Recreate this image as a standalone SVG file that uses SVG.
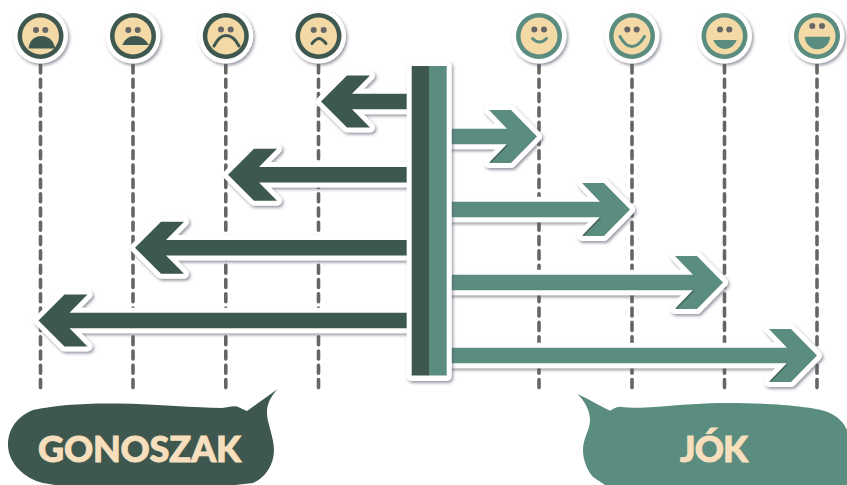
<svg xmlns="http://www.w3.org/2000/svg" width="847" height="485" viewBox="0 0 847 485">
<style>
.dash{stroke:#666;stroke-width:3.6;stroke-linecap:round;stroke-dasharray:8 6.3;fill:none}
.plate{fill:#fff;filter:url(#sh)}
.d .ring{fill:#3e584f}.t .ring{fill:#5a8d7f}
.skin{fill:#f3d9a6}
.eye{fill:#666}
.d .m{fill:#3e584f}.t .m{fill:#5a8d7f}
.d .a{fill:none;stroke:#3e584f;stroke-width:3;stroke-linecap:round}
.t .a{fill:none;stroke:#5a8d7f;stroke-width:3;stroke-linecap:round}
.arw{stroke:#fff;stroke-width:10;stroke-linejoin:round;paint-order:stroke;filter:url(#sh)}
.ad{fill:#3e584f}.at{fill:#5a8d7f}
.edge{fill:none;stroke:#3e584f;stroke-width:1.6;stroke-opacity:.75}
.lbl{font-family:Lato,"Liberation Sans",sans-serif;font-weight:900;font-size:36px;fill:#f7dfbd;stroke:#f7dfbd;stroke-width:.9;text-anchor:middle}
</style>
<defs>
<filter id="sh" x="-20%" y="-20%" width="150%" height="150%"><feDropShadow dx="1.5" dy="2" stdDeviation="1.8" flood-color="#55556a" flood-opacity=".6"/></filter>
</defs>
<g id="connectors">
<path class="dash" d="M40.500 65V390"/>
<path class="dash" d="M133 65V390"/>
<path class="dash" d="M225.800 65V390"/>
<path class="dash" d="M318.500 65V390"/>
<path class="dash" d="M539 65V390"/>
<path class="dash" d="M632 65V390"/>
<path class="dash" d="M724.500 65V390"/>
<path class="dash" d="M817 65V390"/>
</g>
<g id="face-1" class="d"><circle class="plate" cx="40.500" cy="36" r="27.500"/><circle class="ring" cx="40.500" cy="36" r="23"/><circle class="skin" cx="40.500" cy="36" r="18.500"/><circle class="eye" cx="36" cy="30" r="3"/><circle class="eye" cx="45.300" cy="30" r="3"/><path class="m" d="M28.700 48.500C29 41 34 36 41.500 36S54 41 55 48.500Z"/></g>
<g id="face-2" class="d"><circle class="plate" cx="133" cy="36" r="27.500"/><circle class="ring" cx="133" cy="36" r="23"/><circle class="skin" cx="133" cy="36" r="18.500"/><circle class="eye" cx="128.300" cy="30" r="3"/><circle class="eye" cx="137.700" cy="30" r="3"/><path class="m" d="M122.300 45C125 39 129 36 135 36S145 39 149 45Z"/></g>
<g id="face-3" class="d"><circle class="plate" cx="225.800" cy="36" r="27.500"/><circle class="ring" cx="225.800" cy="36" r="23"/><circle class="skin" cx="225.800" cy="36" r="18.500"/><circle class="eye" cx="221" cy="29.500" r="3"/><circle class="eye" cx="230.700" cy="29.500" r="3"/><path class="a" d="M214 46C218 38 222 35.500 226 35.500S235 38 239 46"/></g>
<g id="face-4" class="d"><circle class="plate" cx="318.500" cy="36" r="27.500"/><circle class="ring" cx="318.500" cy="36" r="23"/><circle class="skin" cx="318.500" cy="36" r="18.500"/><circle class="eye" cx="313.700" cy="30" r="3"/><circle class="eye" cx="323.700" cy="30" r="3"/><path class="a" d="M312 43.500C315 40 317 38.500 319 38.500S323 40 326 43.500"/></g>
<g id="face-5" class="t"><circle class="plate" cx="539" cy="36" r="27.500"/><circle class="ring" cx="539" cy="36" r="23"/><circle class="skin" cx="539" cy="36" r="18.500"/><circle class="eye" cx="534.300" cy="29.500" r="3"/><circle class="eye" cx="544" cy="29.500" r="3"/><path class="a" d="M532.500 38.500C535 41 537 42 539.500 42S544 41 546.500 38.500"/></g>
<g id="face-6" class="t"><circle class="plate" cx="632" cy="36" r="27.500"/><circle class="ring" cx="632" cy="36" r="23"/><circle class="skin" cx="632" cy="36" r="18.500"/><circle class="eye" cx="627.300" cy="29.500" r="3"/><circle class="eye" cx="636.700" cy="29.500" r="3"/><path class="a" d="M620 36.500C624 44 628 46.500 632 46.500S640 44 644.500 36.500"/></g>
<g id="face-7" class="t"><circle class="plate" cx="724.500" cy="36" r="27.500"/><circle class="ring" cx="724.500" cy="36" r="23"/><circle class="skin" cx="724.500" cy="36" r="18.500"/><circle class="eye" cx="720" cy="29.500" r="3"/><circle class="eye" cx="729.300" cy="29.500" r="3"/><path class="m" d="M713.300 40H736.700C735 45 730 49 725 49S715 45 713.300 40Z"/></g>
<g id="face-8" class="t"><circle class="plate" cx="817" cy="36" r="27.500"/><circle class="ring" cx="817" cy="36" r="23"/><circle class="skin" cx="817" cy="36" r="18.500"/><circle class="eye" cx="812.300" cy="26" r="3"/><circle class="eye" cx="822" cy="26" r="3"/><path class="m" d="M805 36.700H830C830 44 824 49.300 817.500 49.300S805 44 805 36.700Z"/></g>
<g id="arrow-l1"><path class="arw ad" d="M321 101.500L347 75.500H370L352 93.800H409V109.200H352L370 127.500H347Z"/></g>
<g id="arrow-l2"><path class="arw ad" d="M228 174.700L254 148.700H277L259 167H409V182.400H259L277 200.700H254Z"/></g>
<g id="arrow-l3"><path class="arw ad" d="M135 247.800L161 221.800H184L166 240.100H409V255.500H166L184 273.800H161Z"/></g>
<g id="arrow-l4"><path class="arw ad" d="M38.500 320.500L64.500 294.500H87.500L69.500 312.800H409V328.200H69.500L87.500 346.500H64.500Z"/></g>
<g id="arrow-r1"><path class="arw at" d="M537 136.500L511 110H489L507 128.800H448V144.200H507L489 163H511Z"/><path class="edge" d="M490.500 162.200L507.500 144.800"/></g>
<g id="arrow-r2"><path class="arw at" d="M630 209.500L604 183H582L600 201.800H448V217.200H600L582 236H604Z"/><path class="edge" d="M583.500 235.200L600.500 217.800"/></g>
<g id="arrow-r3"><path class="arw at" d="M723 282.500L697 256H675L693 274.800H448V290.200H693L675 309H697Z"/><path class="edge" d="M676.500 308.200L693.500 290.800"/></g>
<g id="arrow-r4"><path class="arw at" d="M817 355.500L791 329H769L787 347.800H448V363.200H787L769 382H791Z"/><path class="edge" d="M770.500 381.200L787.500 363.800"/></g>
<g id="bar">
<rect class="plate" x="406.700" y="61" width="45" height="320" rx="5"/>
<rect x="411.700" y="66" width="17.500" height="309.500" fill="#3e584f"/>
<rect x="429" y="66" width="17.700" height="309.500" fill="#5a8d7f"/>
</g>
<g id="bubble-bad">
<path fill="#3e584f" d="M277.700 389C271 396 266.500 404 267 414C267.500 424 274 438 274 450C274 465 265 478 253 483L235 485H55L43 483C25 479 8 463 8 445C8 432 14 418 33 410C55 405 85 403 117 403.500C160 404 195 408 222 408C228 407 233 405.500 237 406.500C241 408 244 410 247 411Z"/>
<text class="lbl" x="139.500" y="461.500" textLength="203" lengthAdjust="spacing">GONOSZAK</text>
</g>
<g id="bubble-good">
<path fill="#5a8d7f" d="M577.300 394C587 398 598 405 610 410.700C613 409 616 406.500 620 406.700C630 408 640 408 655 407C680 405 705 403 727 403C770 403 810 406 827 411.700C838 416 844 423 847 430V485H605L593 477C587 470 583 460 583 450C583 438 590 430 590 420C590 410 584 400 577.300 394Z"/>
<text class="lbl" x="714" y="461.500" textLength="68" lengthAdjust="spacing">JÓK</text>
</g>
</svg>
